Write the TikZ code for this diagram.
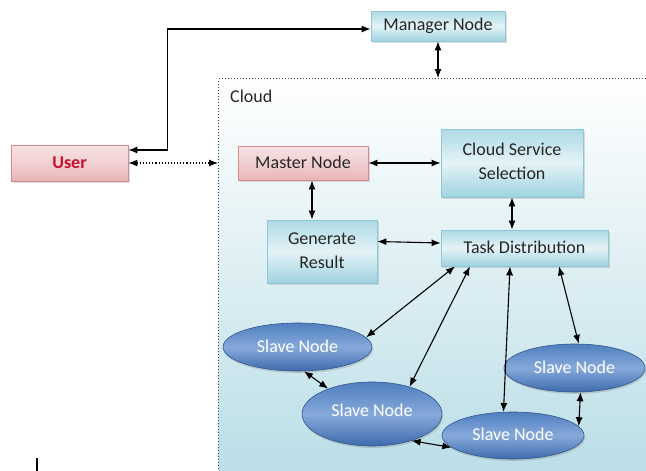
\documentclass[tikz,border=0pt]{standalone}
\usepackage{fontspec}
\setmainfont{Carlito}
\usetikzlibrary{arrows.meta,shapes.geometric,shadows,calc}

\definecolor{tealA}{HTML}{9FD3E0}
\definecolor{tealB}{HTML}{E4F3F7}
\definecolor{tealEdge}{HTML}{8EC8D6}
\definecolor{pinkA}{HTML}{E3A2A4}
\definecolor{pinkB}{HTML}{F7E3E4}
\definecolor{pinkEdge}{HTML}{D98A8C}
\definecolor{userRed}{HTML}{C8102E}
\definecolor{slaveTop}{HTML}{4F7FC0}
\definecolor{slaveMid}{HTML}{86A9DA}
\definecolor{slaveBot}{HTML}{3E6BAE}
\definecolor{cloudBot}{HTML}{B3DAE4}

\tikzset{
  every node/.style={font=\fontsize{18}{24}\selectfont, text=black!85},
  tealbox/.style={rectangle, draw=tealEdge, line width=0.8pt,
    top color=tealA!85!white, bottom color=tealA, middle color=tealB,
    drop shadow={shadow xshift=1.5pt, shadow yshift=-1.5pt, opacity=0.25},
    align=center},
  pinkbox/.style={rectangle, draw=pinkEdge, line width=0.8pt,
    top color=pinkB, bottom color=pinkA!80!white, middle color=pinkB!70!pinkA,
    drop shadow={shadow xshift=1.5pt, shadow yshift=-1.5pt, opacity=0.25}},
  slave/.style={ellipse, draw=slaveBot!80!black, line width=0.6pt,
    top color=slaveTop, bottom color=slaveBot, middle color=slaveMid,
    drop shadow={shadow xshift=1pt, shadow yshift=-2pt, opacity=0.3},
    inner sep=0pt, text=white},
  cloudbox/.style={rectangle, draw=black!75, dotted, line width=1pt,
    top color=white, bottom color=cloudBot},
  link/.style={line width=1.1pt, black, {Latex[length=9pt,width=7pt]}-{Latex[length=9pt,width=7pt]}},
}

\begin{document}
\begin{tikzpicture}[x=1pt, y=-1pt]
\useasboundingbox (0,0) rectangle (646,471);
\clip (0,0) rectangle (646,471);

% cloud region
\node[cloudbox, anchor=north west, minimum width=520, minimum height=440] (cloud) at (218,78) {};
\node[anchor=west, inner sep=0pt] (cloudlbl) at (230,96) {Cloud};

% boxes
\node[tealbox, minimum width=134, minimum height=30] (manager) at (438,26) {Manager Node};
\node[pinkbox, minimum width=117, minimum height=36, font=\fontsize{18}{24}\selectfont\bfseries, text=userRed] (user) at (69.5,163) {User};
\node[pinkbox, minimum width=130, minimum height=34] (master) at (303,163) {\raisebox{1.5pt}{Master Node}};
\node[tealbox, minimum width=142, minimum height=68] (css) at (512,163) {\raisebox{4pt}{\begin{tabular}{@{}c@{}}Cloud Service\\Selection\end{tabular}}};
\node[tealbox, minimum width=110, minimum height=63] (gen) at (322,251.5) {\raisebox{2pt}{\begin{tabular}{@{}c@{}}Generate\\Result\end{tabular}}};
\node[tealbox, minimum width=167, minimum height=36] (td) at (524.5,248) {\raisebox{2pt}{Task Distribution}};

% slave nodes
\node[slave, minimum width=149, minimum height=48] (s1) at (297.5,347) {\raisebox{2pt}{Slave Node}};
\node[slave, minimum width=140, minimum height=64] (s2) at (372,414) {\raisebox{7pt}{Slave Node}};
\node[slave, minimum width=141, minimum height=48] (s3) at (574.5,368) {\raisebox{2pt}{Slave Node}};
\node[slave, minimum width=142, minimum height=47] (s4) at (513,435.5) {\raisebox{2pt}{Slave Node}};

% connectors
\draw[link] ([yshift=13pt]user.east) -- ++(39,0) |- ([yshift=-3pt]manager.west);
\draw[link, dotted] (user.east) -- (user.east -| cloud.west);
\draw[link] (manager.south) -- (manager.south |- cloud.north);
\draw[link] (master.east) -- (css.west |- master.east);
\draw[link] ([xshift=9pt]master.south) -- ([xshift=-10pt]gen.north);
\draw[link] (css.south) -- (css.south |- td.north);
\draw[link] ([yshift=10pt]gen.east) -- ([yshift=5pt]td.west);
\draw[link] ([xshift=-69.5pt]td.south) -- (s1.8);
\draw[link] ([xshift=-54.5pt]td.south) -- (s2.36);
\draw[link] ([xshift=-14.5pt]td.south) -- (s4.112);
\draw[link] ([xshift=34.5pt]td.south) -- (s3.80);
\draw[link] (s1.-75) -- (s2.150);
\draw[link] (s2.-34) -- (s4.191);
\draw[link] (s3.-76) -- (s4.8);

% small mark at the lower left
\coordinate (markTop) at (37,458);
\draw[line width=1.8pt, black] (markTop) -- ++(0,14);
\end{tikzpicture}
\end{document}
